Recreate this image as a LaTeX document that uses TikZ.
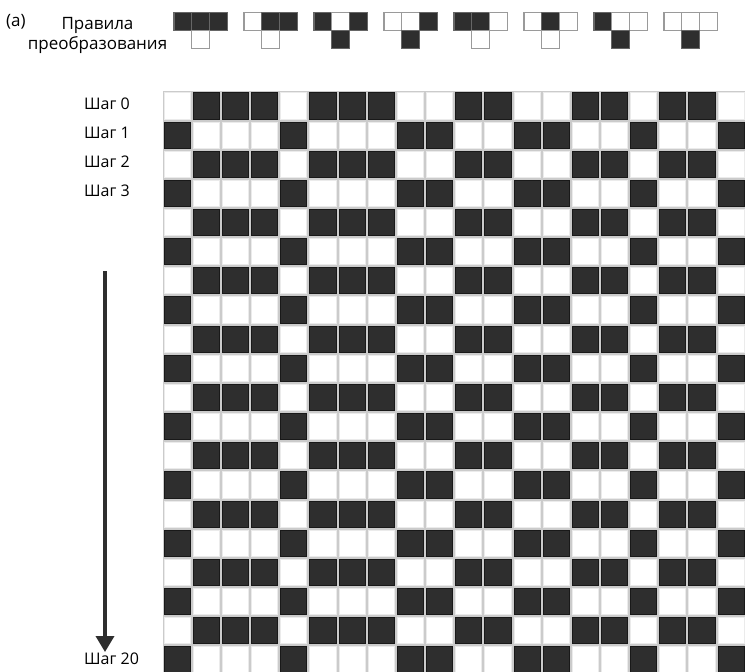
\documentclass[tikz,border=0pt]{standalone}
\usepackage{fontspec}
\setmainfont{Open Sans}
\usetikzlibrary{arrows.meta, positioning}
\definecolor{cellDark}{HTML}{2E2E2E}
\definecolor{gridGray}{HTML}{CBCBCB}
\definecolor{ruleGray}{HTML}{9A9A9A}
\tikzset{
    cell0/.style={fill=white, draw=black!8, line width=0.6pt},
    cell1/.style={fill=cellDark, draw=black!90, line width=0.6pt},
    rule0/.style={fill=white, draw=ruleGray, line width=1.3pt},
    rule1/.style={fill=cellDark, draw=black!60, line width=1.3pt},
    steplabel/.style={anchor=west, inner sep=0pt, font=\fontsize{16}{19}\selectfont},
    headtext/.style={inner sep=0pt, font=\fontsize{17}{20}\selectfont},
    timeline/.style={-{Triangle[width=18pt, length=16pt]}, line width=3.5pt, cellDark}
}

\begin{document}
\begin{tikzpicture}[x=1pt, y=-1pt]
    \useasboundingbox (0,0) rectangle (745,672);
    % правила преобразования
    \node (tag) [headtext, anchor=west] at (6,22) {(a)};
    \node (rulestitle) [headtext, align=center] at (97.5,35) {Правила\\преобразования};
    \foreach \l/\m/\r/\o [count=\k from 0] in {1/1/1/0, 0/1/1/0, 1/0/1/1, 0/0/1/1, 1/1/0/0, 0/1/0/0, 1/0/0/1, 0/0/0/1} {
        \pgfmathsetmacro\rx{174+70*\k}
        \draw[rule\l] (\rx,12.7) rectangle ++(17.8,17.8);
        \draw[rule\m] ({\rx+17.8},12.7) rectangle ++(17.8,17.8);
        \draw[rule\r] ({\rx+35.6},12.7) rectangle ++(17.8,17.8);
        \draw[rule\o] ({\rx+17.8},30.5) rectangle ++(17.8,17.8);
    }
    % шаги
    \fill[gridGray] (162.5,91.2) rectangle (745.5,674.2);
    \foreach \b [count=\c from 0] in {0,1,1,1,0,1,1,1,0,0,1,1,0,0,1,1,0,1,1,0} {
        \foreach \r in {0,...,19} {
            \pgfmathtruncatemacro\v{mod(\b+\r,2)}
            \draw[cell\v] ({162.5+29.15*\c+1.5},{91.2+29.15*\r+1.5}) rectangle ++(26.15,26.15);
        }
    }
    \foreach \s in {0,...,3}
        \node (step\s) [steplabel] at (84,{103.3+29.15*\s}) {Шаг \s};
    \node (step20) [steplabel] at (84,659) {Шаг 20};
    \coordinate (arrtop) at (105,271);
    \coordinate (arrtip) at (105,652);
    \draw[timeline] (arrtop) -- (arrtip);
\end{tikzpicture}
\end{document}
